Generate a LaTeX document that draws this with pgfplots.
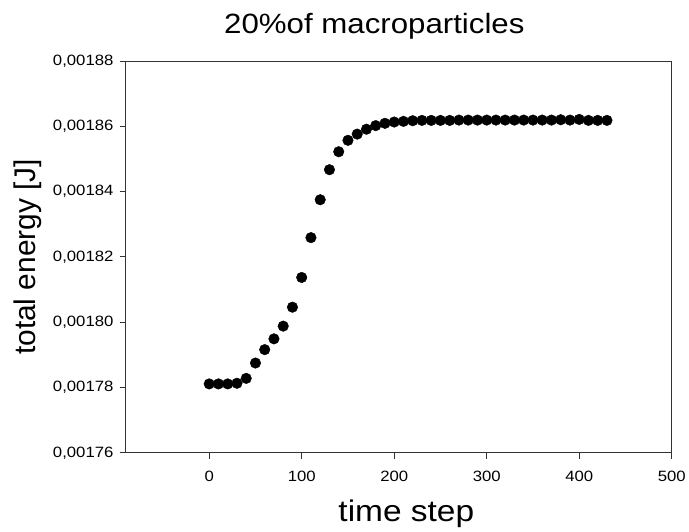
\documentclass[border=0pt]{standalone}
\usepackage{pgfplots}
\pgfplotsset{compat=1.18}
\usepackage{fontspec}
\setmainfont{Liberation Sans}[FakeStretch=1.12]
\newfontfamily\plainsans{Liberation Sans}
\begin{document}
\begin{tikzpicture}
\begin{axis}[
  scale only axis,
  width=546bp, height=392bp,
  xmin=-90, xmax=500,
  ymin=0.00176, ymax=0.00188,
  xtick={0,100,200,300,400,500},
  ytick={0.00176,0.00178,0.00180,0.00182,0.00184,0.00186,0.00188},
  yticklabels={{0,00176},{0,00178},{0,00180},{0,00182},{0,00184},{0,00186},{0,00188}},
  scaled y ticks=false,
  tick align=outside,
  xtick pos=bottom, ytick pos=left,
  major tick length=6bp,
  /pgf/number format/assume math mode=true,
  tick label style={font=\fontsize{15}{17}\selectfont},
  xticklabel style={yshift=-9bp},
  yticklabel style={xshift=-3bp},
  axis line style={line width=0.9bp, black!80},
  tick style={line width=0.9bp, black!80},
  title={20\%of macroparticles},
  title style={font=\fontsize{28}{30}\selectfont, at={(axis description cs:0.5,1)}, anchor=base, yshift=22bp, xshift=-24.5bp},
  xlabel={time step},
  ylabel={total energy [J]},
  xlabel style={font=\fontsize{30}{32}\selectfont, at={(axis description cs:0.5,0)}, anchor=base, yshift=-69bp, xshift=7.5bp},
  ylabel style={font=\plainsans\fontsize{30}{32}\selectfont, at={([shift={(-90bp,0bp)}]axis description cs:0,0.5)}, anchor=base},
]
\addplot[only marks, mark=*, mark size=5.3bp, black] coordinates {
(0,0.0017811) (10,0.0017811) (20,0.0017811) (30,0.0017813) (40,0.0017828)
(50,0.0017875) (60,0.0017916) (70,0.0017949) (80,0.0017988) (90,0.0018046)
(100,0.0018137) (110,0.0018259) (120,0.0018375) (130,0.0018467) (140,0.0018522)
(150,0.0018557) (160,0.0018576) (170,0.0018591) (180,0.0018602) (190,0.0018609)
(200,0.0018613) (210,0.0018615) (220,0.0018617) (230,0.0018618) (240,0.0018618)
(250,0.0018618) (260,0.0018618) (270,0.0018619) (280,0.0018619) (290,0.0018619)
(300,0.0018619) (310,0.0018619) (320,0.0018619) (330,0.0018619) (340,0.0018619)
(350,0.0018619) (360,0.0018619) (370,0.0018619) (380,0.0018620) (390,0.0018619)
(400,0.0018621) (410,0.0018618) (420,0.0018618) (430,0.0018618)
};
\coordinate (ll) at (rel axis cs:0,0);
\coordinate (ur) at (rel axis cs:1,1);
\end{axis}
\path[use as bounding box] ([shift={(-126bp,-78bp)}]ll) rectangle ([shift={(17bp,61bp)}]ur);
\end{tikzpicture}
\end{document}
